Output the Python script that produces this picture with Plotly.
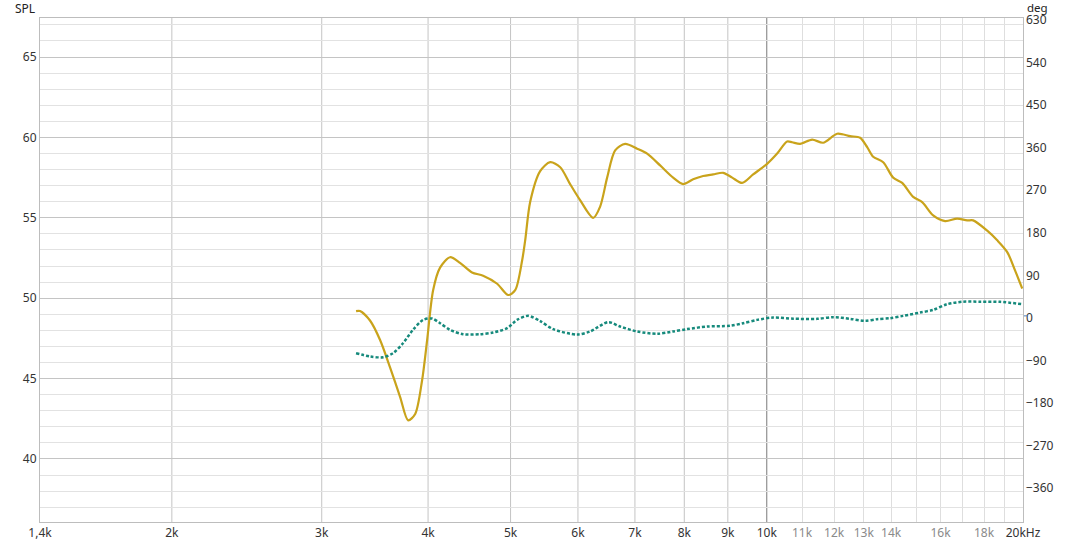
import plotly.graph_objects as go

# ---- data ----
spl_freq = [3292, 3328, 3420, 3513, 3609, 3709, 3790, 3863, 3936, 3990, 4055, 4132, 4245, 4361,
            4505, 4642, 4822, 4968, 5063, 5159, 5202, 5273, 5417, 5566, 5719, 5874, 6035, 6252,
            6371, 6493, 6635, 6817, 7042, 7235, 7494, 7762, 7975, 8194, 8419, 8650, 8887, 9107,
            9355, 9638, 10009, 10285, 10566, 10711, 10945, 11306, 11647, 12097, 12531, 12874,
            13120, 13336, 13702, 14077, 14424, 14860, 15225, 15685, 16201, 16737, 17195, 17478,
            18155, 18653, 19164, 19584, 19960]
spl_db = [49.2, 49.2, 48.6, 47.4, 45.7, 43.85, 42.4, 42.8, 44.9, 47.4, 50.5, 51.9, 52.55, 52.2,
          51.6, 51.4, 50.9, 50.2, 50.5, 52.35, 53.6, 56.0, 57.9, 58.46, 58.15, 57.1, 56.1, 55.0,
          55.7, 57.5, 59.2, 59.6, 59.3, 58.99, 58.26, 57.5, 57.1, 57.4, 57.6, 57.7, 57.8, 57.5,
          57.17, 57.7, 58.36, 59.0, 59.75, 59.7, 59.6, 59.87, 59.67, 60.23, 60.08, 59.98,
          59.4, 58.8, 58.46, 57.5, 57.17, 56.3, 55.98, 55.15, 54.8, 54.95, 54.84, 54.84,
          54.2, 53.6, 52.87, 51.7, 50.6]

phase_freq = [3292, 3420, 3542, 3638, 3738, 3840, 3947, 4044, 4132, 4245, 4397, 4605, 4769, 4954,
              5089, 5244, 5417, 5610, 5986, 6200, 6511, 6726, 7042, 7433, 7762, 8061, 8510, 9057,
              9381, 9743, 10173, 10740, 11461, 11967, 12531, 13051, 13482, 13964, 14462, 15142,
              15685, 16289, 17010, 17812, 18805, 19960]
phase_deg = [-79, -86, -87.5, -79, -58, -29.6, -8.5, -5.6, -15.5, -29.6, -38.8, -38.8, -35.2, -26,
             -8.5, 0, -11, -28, -39.5, -33, -13.4, -22.6, -33, -38, -33, -28, -22.6, -21,
             -15.5, -8.5, -3.5, -6, -6.3, -2.8, -6.3, -10.6, -7, -4.9, 0, 7,
             12.7, 24.7, 30, 30, 29.6, 24.7]

x_tick_vals = [1400, 2000, 3000, 4000, 5000, 6000, 7000, 8000, 9000, 10000,
               11000, 12000, 13000, 14000, 16000, 18000, 20000]
x_tick_text = ["1,4k", "2k", "3k", "4k", "5k", "6k", "7k", "8k", "9k", "10k",
               "11k", "12k", "13k", "14k", "16k", "18k", "20kHz"]
x_grid_major = [2000, 3000, 4000, 5000, 6000, 7000, 8000, 9000]
x_grid_dark = [10000]
x_grid_minor = [11000, 12000, 13000, 14000, 15000, 16000, 17000, 18000, 19000, 20000]
y_ticks = [40, 45, 50, 55, 60, 65]
deg_ticks = [-360, -270, -180, -90, 0, 90, 180, 270, 360, 450, 540, 630]

GOLD = "#c9a31b"
TEAL = "#168a7c"
FONT = "Noto Sans"

tick_text_styled = []
for t in x_tick_text:
    if t.endswith("k") and t[:-1].isdigit() and int(t[:-1]) > 10:
        tick_text_styled.append("<span style='color:#8a8a8a'>%s</span>" % t)
    else:
        tick_text_styled.append(t)

fig = go.Figure()
fig.add_trace(go.Scatter(x=spl_freq, y=spl_db, mode="lines",
                         line=dict(color=GOLD, width=2.2, shape="spline", smoothing=0.8),
                         hoverinfo="skip", showlegend=False))
fig.add_trace(go.Scatter(x=phase_freq, y=phase_deg, mode="lines", yaxis="y2",
                         line=dict(color=TEAL, width=2.5, dash="3px,2px", shape="spline", smoothing=0.8),
                         hoverinfo="skip", showlegend=False))

shapes = []
for f in x_grid_major:
    shapes.append(dict(type="line", xref="x", yref="paper", x0=f, x1=f, y0=0, y1=1,
                       line=dict(color="#c4c4c4", width=1), layer="below"))
for f in x_grid_dark:
    shapes.append(dict(type="line", xref="x", yref="paper", x0=f, x1=f, y0=0, y1=1,
                       line=dict(color="#7a7a7a", width=1), layer="below"))
# blue tick at 0 deg on right axis
shapes.append(dict(type="line", xref="paper", yref="y2", x0=1.001, x1=1.005, y0=0, y1=0,
                   line=dict(color="#4a7fc1", width=1)))

fig.update_layout(
    width=1075, height=546,
    margin=dict(l=40, r=52, t=18, b=24, autoexpand=False),
    paper_bgcolor="white", plot_bgcolor="white",
    font=dict(family=FONT, size=12, color="#333333"),
    shapes=shapes,
    xaxis=dict(type="log", range=[3.146128, 4.301030], automargin=False,
               tickmode="array", tickvals=x_tick_vals, ticktext=tick_text_styled,
               showgrid=False, zeroline=False, ticks="",
               showline=True, linecolor="#bdbdbd", linewidth=1, mirror=True,
               tickfont=dict(size=12, color="#333333"),
               minor=dict(tickmode="array", tickvals=x_grid_minor, showgrid=True,
                          gridcolor="#dedede", gridwidth=1, ticks="")),
    yaxis=dict(range=[36.08, 67.43], tickmode="array", tickvals=y_ticks, automargin=False,
               showgrid=True, gridcolor="#c4c4c4", gridwidth=1, zeroline=False, ticks="",
               showline=True, linecolor="#bdbdbd", linewidth=1, mirror=True,
               tickfont=dict(size=12, color="#333333"),
               minor=dict(dtick=1, showgrid=True, gridcolor="#e2e2e2", gridwidth=1, ticks="")),
    yaxis2=dict(range=[-436, 630], overlaying="y", side="right", tickmode="array",
                tickvals=deg_ticks, showgrid=False, zeroline=False, ticks="", automargin=False,
                ticklabelshift=2, ticklabelstandoff=2,
                showline=False, tickfont=dict(size=12, color="#333333")),
    annotations=[
        dict(text="SPL", xref="paper", yref="paper", x=0, y=1, xshift=-3, yshift=10,
             xanchor="right", yanchor="middle", showarrow=False,
             font=dict(size=12, color="#222222", family=FONT)),
        dict(text="deg", xref="paper", yref="paper", x=1, y=1, xshift=2, yshift=11,
             xanchor="left", yanchor="middle", showarrow=False,
             font=dict(size=11.5, color="#222222", family=FONT)),
    ],
)

fig.write_html("out.html", config={"displayModeBar": False},
               post_script="document.body.style.margin='0px';document.body.style.overflow='hidden';")
